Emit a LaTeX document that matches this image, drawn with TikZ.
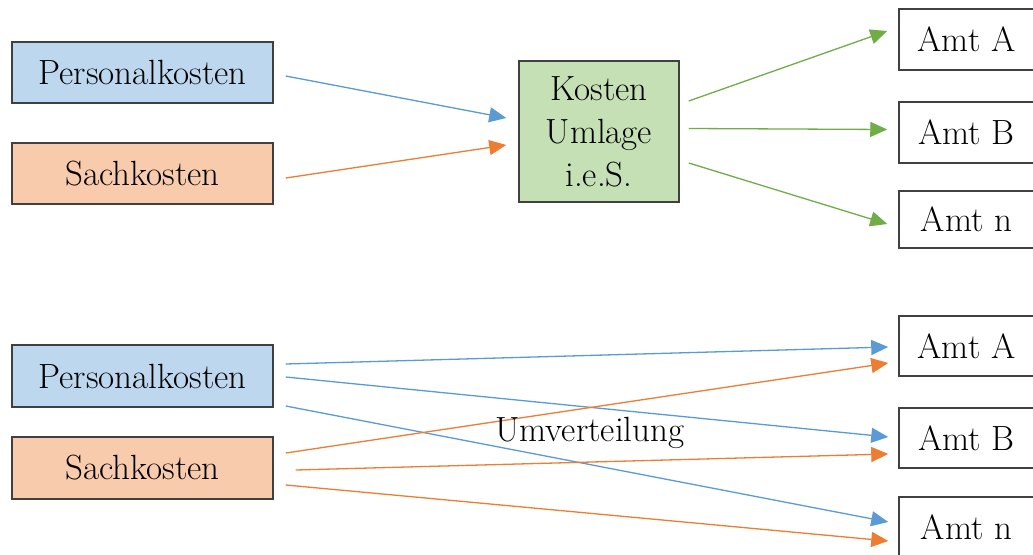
\documentclass[tikz,border=0pt]{standalone}
\usetikzlibrary{arrows.meta}
\definecolor{pkfill}{HTML}{BDD7EE}
\definecolor{skfill}{HTML}{F8CBAD}
\definecolor{kufill}{HTML}{C5E0B4}
\definecolor{pkline}{HTML}{5B9BD5}
\definecolor{skline}{HTML}{ED7D31}
\definecolor{kuline}{HTML}{70AD47}
\definecolor{frame}{HTML}{404040}
\tikzset{
  label text/.style={font=\rmfamily\fontsize{35}{43}\selectfont},
  box/.style={draw=frame, line width=1.5pt, inner sep=0pt, align=center, label text},
  costbox/.style={box, minimum width=261pt, minimum height=61pt},
  amtbox/.style={box, fill=white, minimum width=135pt},
  flow/.style={line width=1.3pt, -{Triangle[length=17pt,width=15pt]}},
  bl/.style={flow, draw=pkline, pkline},
  or/.style={flow, draw=skline, skline},
  gr/.style={flow, draw=kuline, kuline},
}
\begin{document}
\begin{tikzpicture}[x=1pt, y=-1pt]
\clip (0,0) rectangle (1033,554);
\fill[white] (0,0) rectangle (1033,554);

% upper part: allocation through the cost pool
\node[costbox, fill=pkfill] (pk1) at (142.5,72.5) {Personalkosten};
\node[costbox, fill=skfill] (sk1) at (142.5,173.5) {Sachkosten};
\node[box, fill=kufill, minimum width=160pt, minimum height=141pt] (ku) at (599,131.5) {Kosten\\Umlage\\i.e.S.};
\node[amtbox, minimum height=61pt] (aa1) at (966.5,39.5) {Amt A};
\node[amtbox, minimum height=61pt] (ab1) at (966.5,132.5) {Amt B};
\node[amtbox, minimum height=57pt] (an1) at (966.5,219.5) {Amt n};

\draw[bl] ([shift={(12,3.5)}]pk1.east) -- ([shift={(-12,-13.5)}]ku.west);
\draw[or] ([shift={(12,4.5)}]sk1.east) -- ([shift={(-12,13.5)}]ku.west);
\draw[gr] ([shift={(9,-30.5)}]ku.east) -- ([shift={(-11,-8.5)}]aa1.west);
\draw[gr] ([shift={(9,-3)}]ku.east) -- ([shift={(-11,-3)}]ab1.west);
\draw[gr] ([shift={(9,31.5)}]ku.east) -- ([shift={(-11,4.5)}]an1.west);

% lower part: direct redistribution
\node[costbox, fill=pkfill, minimum height=62pt] (pk2) at (142.5,376) {Personalkosten};
\node[costbox, fill=skfill, minimum height=62pt] (sk2) at (142.5,468) {Sachkosten};
\node[amtbox, minimum height=60pt] (aa2) at (966.5,346) {Amt A};
\node[amtbox, minimum height=60pt] (ab2) at (966.5,438) {Amt B};
\node[amtbox, minimum height=60pt] (an2) at (966.5,527) {Amt n};

\draw[bl] ([shift={(12,-12)}]pk2.east) -- ([shift={(-10,1)}]aa2.west);
\draw[bl] ([shift={(12,1)}]pk2.east) -- ([shift={(-10,-1)}]ab2.west);
\draw[bl] ([shift={(12,30)}]pk2.east) -- ([shift={(-10,-5)}]an2.west);
\draw[or] ([shift={(12,-15)}]sk2.east) -- ([shift={(-10,17)}]aa2.west);
\draw[or] ([shift={(22,2)}]sk2.east) -- ([shift={(-10,16)}]ab2.west);
\draw[or] ([shift={(12,17)}]sk2.east) -- ([shift={(-10,14)}]an2.west);

\node[label text, inner sep=0pt] (uv) at (590,433) {Umverteilung};
\end{tikzpicture}
\end{document}
